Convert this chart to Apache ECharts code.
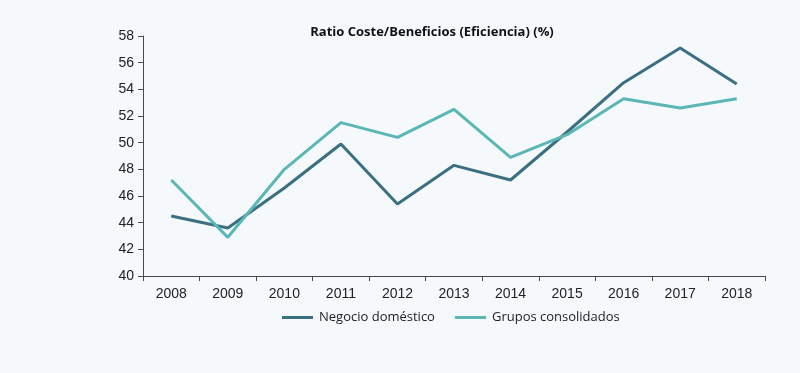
<!DOCTYPE html>
<html><head><meta charset="utf-8">
<script src="https://cdn.jsdelivr.net/npm/echarts@6/dist/echarts.min.js"></script>
<style>html,body{margin:0;padding:0;background:#f6f9fb;}#c{width:800px;height:373px;}</style>
</head><body><div id="c"></div>
<script>
const categories = ['2008','2009','2010','2011','2012','2013','2014','2015','2016','2017','2018'];
const negocioDomestico = [44.5, 43.6, 46.6, 49.9, 45.4, 48.3, 47.2, 50.8, 54.5, 57.1, 54.4];
const gruposConsolidados = [47.2, 42.9, 48.0, 51.5, 50.4, 52.5, 48.9, 50.6, 53.3, 52.6, 53.3];
const yTicks = {min: 40, max: 58, interval: 2};

const chart = echarts.init(document.getElementById('c'));
chart.setOption({
  backgroundColor: '#f6f9fb',
  animation: false,
  title: {
    text: 'Ratio Coste/Beneficios (Eficiencia) (%)',
    left: 427, top: 21, textAlign: 'center',
    textStyle: {fontFamily: 'Open Sans', fontWeight: 'bold', fontSize: 13, color: '#111'}
  },
  legend: {
    top: 306, left: 277, itemGap: 20, itemWidth: 31, itemHeight: 3,
    icon: 'rect',
    textStyle: {fontFamily: 'Open Sans', fontSize: 13, color: '#222', padding: [0,0,0,1]},
    data: ['Negocio doméstico', 'Grupos consolidados']
  },
  grid: {left: 143, right: 35, top: 36, bottom: 97, containLabel: false},
  xAxis: {
    type: 'category', data: categories, boundaryGap: true,
    axisLine: {lineStyle: {color: '#4a4a4a', width: 1}},
    axisTick: {show: true, length: 5, lineStyle: {color: '#4a4a4a'}},
    axisLabel: {fontFamily: 'Liberation Sans', fontSize: 14, color: '#222', margin: 11}
  },
  yAxis: {
    type: 'value', min: yTicks.min, max: yTicks.max, interval: yTicks.interval,
    axisLine: {show: true, lineStyle: {color: '#4a4a4a', width: 1}},
    axisTick: {show: true, length: 5, lineStyle: {color: '#4a4a4a'}},
    splitLine: {show: false},
    axisLabel: {fontFamily: 'Liberation Sans', fontSize: 14, color: '#222', margin: 9}
  },
  series: [
    {name: 'Negocio doméstico', type: 'line', data: negocioDomestico, symbol: 'none',
     lineStyle: {color: '#3b6f81', width: 3}, itemStyle: {color: '#3b6f81'}},
    {name: 'Grupos consolidados', type: 'line', data: gruposConsolidados, symbol: 'none',
     lineStyle: {color: '#5bb7b5', width: 3}, itemStyle: {color: '#5bb7b5'}}
  ]
});
</script></body></html>
